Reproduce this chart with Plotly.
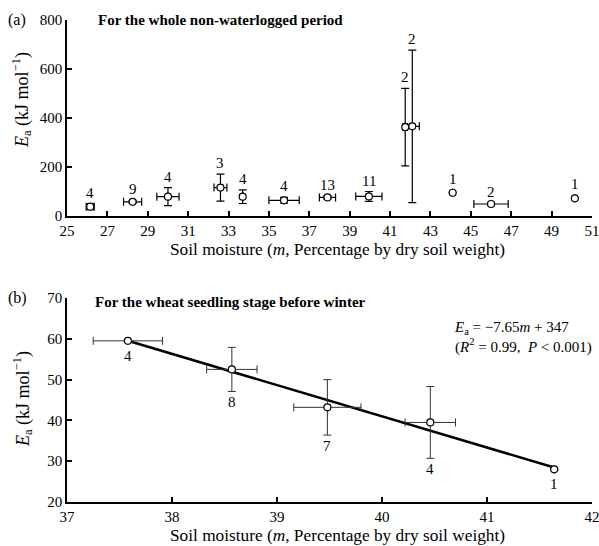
import plotly.graph_objects as go
from plotly.subplots import make_subplots

# Panel (a) data
a_x = [26.15, 28.25, 30.0, 32.6, 33.7, 35.75, 37.9, 39.95, 41.75, 42.1, 44.1, 46.0, 50.15]
a_y = [38, 58, 79, 116, 79, 64, 76, 80, 363, 366, 95, 49, 72]
a_xerr = [0.2, 0.45, 0.55, 0.32, 0.0, 0.75, 0.4, 0.65, 0.12, 0.35, 0.0, 0.85, 0.0]
a_yerr = [12, 6, 37, 55, 28, 12, 6, 20, 158, 311, 0, 5, 0]
a_n = ["4", "9", "4", "3", "4", "4", "13", "11", "2", "2", "1", "2", "1"]
a_xticks = list(range(25, 52, 2))
a_yticks = [0, 200, 400, 600, 800]

# Panel (b) data
b_x = [37.58, 38.57, 39.48, 40.46, 41.64]
b_y = [59.5, 52.5, 43.2, 39.5, 28.0]
b_xerr = [0.33, 0.24, 0.32, 0.24, 0.0]
b_yerr = [0.0, 5.4, 6.8, 8.8, 0.0]
b_n = ["4", "8", "7", "4", "1"]
b_xticks = [37, 38, 39, 40, 41, 42]
b_yticks = [20, 30, 40, 50, 60, 70]
fit_slope = -7.65
fit_intercept = 347

FONT = "Liberation Serif, Times New Roman, serif"
W, H = 599, 546
ml, mr, mt, mb = 67, 7, 20, 44
pw, ph = W - ml - mr, H - mt - mb

fig = make_subplots(rows=2, cols=1)

marker = dict(symbol="circle", size=7, color="white", line=dict(color="black", width=1.2))

fig.add_trace(go.Scatter(
    x=a_x, y=a_y, mode="markers", marker=marker,
    error_x=dict(type="data", array=a_xerr, color="black", thickness=1.2, width=4),
    error_y=dict(type="data", array=a_yerr, color="black", thickness=1.2, width=4),
    showlegend=False), row=1, col=1)

fx = [min(b_x), max(b_x)]
fy = [fit_slope * v + fit_intercept for v in fx]
fig.add_trace(go.Scatter(x=fx, y=fy, mode="lines", line=dict(color="black", width=2.5),
                         showlegend=False), row=2, col=1)
fig.add_trace(go.Scatter(
    x=b_x, y=b_y, mode="markers", marker=marker,
    error_x=dict(type="data", array=b_xerr, color="#333", thickness=1, width=4),
    error_y=dict(type="data", array=b_yerr, color="#333", thickness=1, width=4),
    showlegend=False), row=2, col=1)

anns = []
for x, y, e, n in zip(a_x, a_y, a_yerr, a_n):
    anns.append(dict(x=x, y=y + e, xref="x", yref="y", text=n, showarrow=False,
                     yanchor="bottom", yshift=(1 if e > 0 else 4),
                     font=dict(family=FONT, size=15, color="black")))
for x, y, e, n in zip(b_x, b_y, b_yerr, b_n):
    anns.append(dict(x=x, y=y - e, xref="x2", yref="y2", text=n, showarrow=False,
                     yanchor="top", yshift=(-1 if e > 0 else -5),
                     font=dict(family=FONT, size=15, color="black")))


def px2paper(px, py):
    return (px - ml) / pw, (H - mb - py) / ph


for txt, px, py, bold in [("(a)", 6, 20, False), ("(b)", 6, 298, False),
                          ("For the whole non-waterlogged period", 96, 20, True),
                          ("For the wheat seedling stage before winter", 93, 302, True)]:
    x, y = px2paper(px, py)
    anns.append(dict(x=x, y=y, xref="paper", yref="paper", text=(f"<b>{txt}</b>" if bold else txt),
                     showarrow=False, xanchor="left", yanchor="middle",
                     font=dict(family=FONT, size=(15 if bold else 16), color="black")))
x, y = px2paper(594, 337)
anns.append(dict(x=x, y=y, xref="paper", yref="paper",
                 text="<i>E</i><sub>a</sub> = −7.65<i>m</i> + 347<br>(<i>R</i><sup>2</sup> = 0.99,  <i>P</i> &lt; 0.001)",
                 showarrow=False, xanchor="right", yanchor="middle", align="left",
                 font=dict(family=FONT, size=15, color="black")))

# y-axis titles as rotated annotations
ytitle_txt = "<i>E</i><sub>a</sub> (kJ mol<sup>−1</sup>)"
for py in (100, 399):
    x, y = px2paper(22, py)
    anns.append(dict(x=x, y=y, xref="paper", yref="paper", text=ytitle_txt, textangle=-90,
                     showarrow=False, xanchor="center", yanchor="middle",
                     font=dict(family=FONT, size=18, color="black")))

# x-axis titles as annotations
xtitle_txt = "Soil moisture (<i>m</i>, Percentage by dry soil weight)"
for py in (250, 535):
    x, y = px2paper(337, py)
    anns.append(dict(x=x, y=y, xref="paper", yref="paper", text=xtitle_txt,
                     showarrow=False, xanchor="center", yanchor="middle", borderpad=0,
                     font=dict(family=FONT, size=17.3, color="black")))

axis_common = dict(showline=True, linecolor="black", linewidth=1.5, ticks="inside", ticklen=5,
                   tickcolor="black", tickwidth=1.5, showgrid=False, zeroline=False,
                   ticklabeloverflow="allow", automargin=False,
                   tickfont=dict(family=FONT, size=15, color="black"))

ya_bot = (H - mb - 216) / ph
yb_top = (H - mb - 298) / ph

fig.update_xaxes(**axis_common, range=[25, 51], tickmode="array", tickvals=a_xticks,
                 row=1, col=1)
fig.update_xaxes(**axis_common, range=[37, 42], tickmode="array", tickvals=b_xticks,
                 row=2, col=1)
fig.update_yaxes(**axis_common, range=[0, 800], tickmode="array", tickvals=a_yticks,
                 domain=[ya_bot, 1.0], row=1, col=1)
fig.update_yaxes(**axis_common, range=[20, 70], tickmode="array", tickvals=b_yticks,
                 domain=[0, yb_top], row=2, col=1)

fig.update_layout(width=W, height=H, margin=dict(l=ml, r=mr, t=mt, b=mb),
                  plot_bgcolor="white", paper_bgcolor="white",
                  font=dict(family=FONT, size=15, color="black"),
                  annotations=anns)

fig.write_html("out.html")
